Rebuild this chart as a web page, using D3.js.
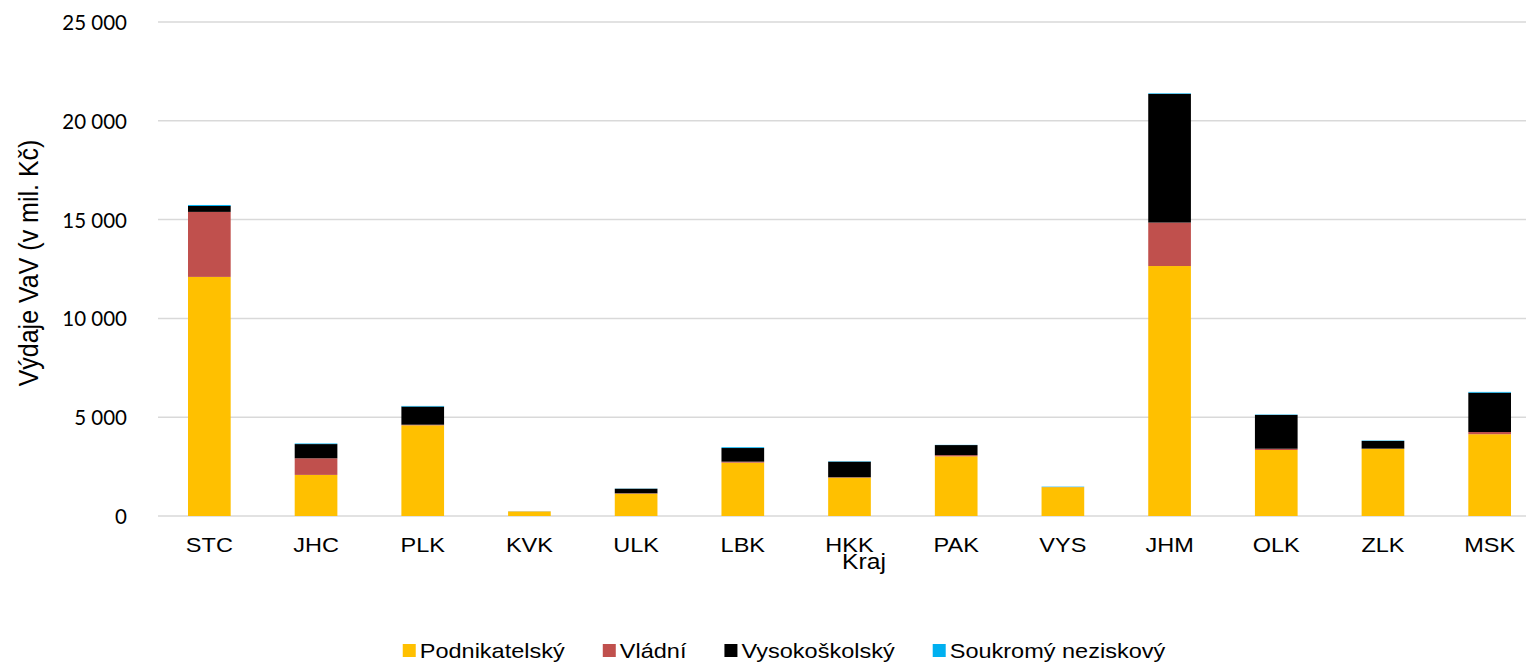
<!DOCTYPE html>
<html>
<head>
<meta charset="utf-8">
<script src="https://d3js.org/d3.v7.min.js"></script>
<style>
  body { margin: 0; background: #fff; }
  .grid line { stroke: #d9d9d9; stroke-width: 1.5; }
  .y-tick text { font-family: Lato, "Noto Sans", sans-serif; font-size: 20.5px; fill: #000; }
  .x-label { font-family: "Liberation Sans", Arial, sans-serif; font-size: 21px; fill: #000; }
  .axis-title { font-family: "Liberation Sans", Arial, sans-serif; font-size: 25px; fill: #000; }
  .legend text { font-family: "Liberation Sans", Arial, sans-serif; font-size: 21px; fill: #000; }
</style>
</head>
<body>
<div id="chart"></div>
<script>
  // Kraje and expenditure by sector (mil. Kč)
  const kraje = ['STC', 'JHC', 'PLK', 'KVK', 'ULK', 'LBK', 'HKK', 'PAK', 'VYS', 'JHM', 'OLK', 'ZLK', 'MSK'];
  const podnikatelsky = [12100, 2080, 4590, 230, 1130, 2700, 1940, 3020, 1460, 12650, 3340, 3400, 4140];
  const vladni =        [3290, 840, 30, 5, 20, 50, 20, 60, 5, 2200, 65, 10, 110];
  const vysokoskolsky = [300, 720, 920, 0, 230, 690, 790, 510, 0, 6510, 1710, 390, 1990];
  const soukromy =      [50, 30, 30, 5, 10, 40, 20, 10, 20, 30, 20, 20, 40];
  const yTicks = [0, 5000, 10000, 15000, 20000, 25000];

  const seriesNames = ['Podnikatelský', 'Vládní', 'Vysokoškolský', 'Soukromý neziskový'];
  const seriesColors = ['#ffc000', '#c0504d', '#000000', '#00b0f0'];

  const W = 1526, H = 663;
  const plot = { left: 156, right: 1543, top: 22, bottom: 516 };
  const sx = 1.12; // reference text is a little wider than Arial

  const svg = d3.select('#chart').append('svg')
    .attr('width', W).attr('height', H);

  const x = d3.scaleBand()
    .domain(kraje)
    .range([plot.left, plot.right])
    .paddingInner(0.6)
    .paddingOuter(0.3);

  const y = d3.scaleLinear()
    .domain([0, 25000])
    .range([plot.bottom, plot.top]);

  // gridlines
  svg.append('g').attr('class', 'grid')
    .selectAll('line')
    .data(yTicks)
    .enter().append('line')
    .attr('x1', plot.left + 2).attr('x2', W)
    .attr('y1', d => y(d)).attr('y2', d => y(d));

  // y tick labels
  svg.append('g').attr('class', 'y-tick')
    .selectAll('text')
    .data(yTicks)
    .enter().append('text')
    .attr('x', 127)
    .attr('y', d => y(d) + 8)
    .attr('text-anchor', 'end')
    .text(d => d === 0 ? '0' : d3.format(',')(d).replace(/,/g, ' '));

  // stacked bars
  const rows = kraje.map((k, i) => ({
    kraj: k,
    'Podnikatelský': podnikatelsky[i],
    'Vládní': vladni[i],
    'Vysokoškolský': vysokoskolsky[i],
    'Soukromý neziskový': soukromy[i]
  }));
  const stack = d3.stack().keys(seriesNames)(rows);

  svg.append('g')
    .selectAll('g')
    .data(stack)
    .enter().append('g')
    .attr('fill', (d, i) => seriesColors[i])
    .selectAll('rect')
    .data(d => d)
    .enter().append('rect')
    .attr('x', d => x(d.data.kraj))
    .attr('width', x.bandwidth())
    .attr('y', d => y(d[1]))
    .attr('height', d => Math.max(0, y(d[0]) - y(d[1])));

  // x labels
  svg.append('g')
    .selectAll('text')
    .data(kraje)
    .enter().append('text')
    .attr('class', 'x-label')
    .attr('transform', d => `translate(${x(d) + x.bandwidth() / 2},552) scale(${sx},1)`)
    .attr('text-anchor', 'middle')
    .text(d => d);

  // axis titles
  svg.append('text')
    .attr('class', 'axis-title')
    .attr('transform', `translate(38,263) rotate(-90) scale(1,${sx})`)
    .attr('text-anchor', 'middle')
    .text('Výdaje VaV (v mil. Kč)');

  svg.append('text')
    .attr('class', 'x-label')
    .attr('transform', `translate(864,569) scale(${sx},1)`)
    .style('font-size', '22px')
    .attr('text-anchor', 'middle')
    .text('Kraj');

  // legend
  const legend = svg.append('g').attr('class', 'legend');
  let lx = 0;
  seriesNames.forEach((name, i) => {
    const g = legend.append('g').attr('transform', `translate(${lx},0)`);
    g.append('rect').attr('x', 0).attr('y', -14).attr('width', 13).attr('height', 13)
      .attr('fill', seriesColors[i]);
    const t = g.append('text')
      .attr('transform', `translate(17,0) scale(${sx},1)`)
      .text(name);
    lx += 17 + t.node().getComputedTextLength() * sx + 38;
  });
  const totalW = lx - 38;
  legend.attr('transform', `translate(${784 - totalW / 2},658)`);
</script>
</body>
</html>
